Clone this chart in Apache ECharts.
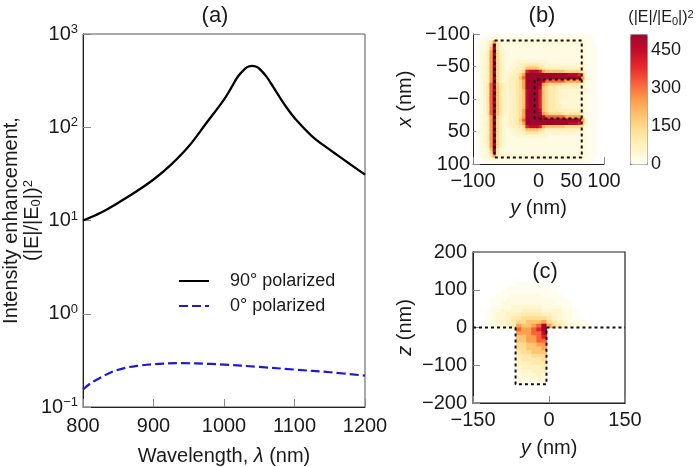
<!DOCTYPE html>
<html><head><meta charset="utf-8">
<script src="https://cdn.jsdelivr.net/npm/echarts@6/dist/echarts.min.js"></script>
<style>html,body{margin:0;padding:0;background:#fff}#c{width:696px;height:467px}</style>
</head><body><div id="c"></div>
<script>
// ---- panel (a) data ----
const wavelength90 = [800,825,850,875,900,925,950,975,1000,1010,1020,1030,1035,1040,1045,1050,1060,1070,1080,1090,1100,1125,1150,1175,1200];
const enhancement90 = [10,12.1,15.5,20.3,27.5,39.8,62.5,111,198,263,352,425,448,455,448,425,351,269,204,158,126,80,57.5,42.2,31];
const wavelength0 = [800,810,820,840,860,880,900,940,980,1000,1050,1100,1150,1200];
const enhancement0 = [0.154,0.178,0.197,0.236,0.263,0.278,0.288,0.295,0.290,0.285,0.269,0.252,0.236,0.217];
const seriesNames = ['90° polarized','0° polarized'];
// ---- field maps: run-length rows of intensity levels ----
const levelValues = {'.':0,a:10,b:25,c:45,d:70,e:100,f:140,g:190,h:250,i:320,j:400,k:460,X:512};
// panel (b): rows x = -100..100 (top to bottom), columns y = -100..100, 5 nm cells
const mapB = [
"4.32a4.",
"2.a31b3a3.",
"2.abcehec24ccb2a3.",
".abbcfkec24bcb3a2.",
".abbcgXec24bcb3a2.",
".abcdhXfdc23bcb3a2.",
".abcdhXfdc23bcb3a2.",
".abcdhXfdc23bcb3a2.",
".abcdhXfdc3b10c10bcb3a2.",
".abcdhXfdc2b2c2d4e2d11ccb3a2.",
".abcdhXfdcbccdde4gfe11ddb3a2.",
".abcdhXfdc2c2defjkkkjh6g5feb3a2.",
".abcdhXfdccddefh13X3kjgc3a2.",
".abcdhXfdccddegi17Xhc3a2.",
".abcdhXfdccddefh5Xk6i5hfb3a2.",
".abceiXgedcddefh5Xhg4f6edb3a2.",
".abceiXgedcddefh4Xkgf3e7ddb3a2.",
".abceiXgedcddefgk3Xjgf2e2d6ccb3a2.",
".abceiXgedcddefgk3Xjgf2e2d6ccb3a2.",
".abceiXgedcddefgk3Xjgf2e2d6ccb3a2.",
".abceiXgedcddefgk3Xjgf2e2d6ccb3a2.",
".abceiXgedcddefgk3Xjgf2e2d6ccb3a2.",
".abceiXgedcddefgk3Xjgf2e2d6ccb3a2.",
".abceiXgedcddefh4Xkgf3e7ddb3a2.",
".abceiXgedcddefh5Xhg4f6edb3a2.",
".abcdhXfdccddefh5Xk6i5hfb3a2.",
".abcdhXfdccddegi17Xhc3a2.",
".abcdhXfdccddefh13X3kjgc3a2.",
".abcdhXfdc2c2defjkkkjh6g5feb3a2.",
".abcdhXfdcbccdde4gfe11ddb3a2.",
".abcdhXfdc2b2c2d4e2d11ccb3a2.",
".abcdhXfdc3b10c10bcb3a2.",
".abcdhXfdc23bcb3a2.",
".abcdhXfdc23bcb3a2.",
".abcdhXfdc23bcb3a2.",
".abbcgXec24bcb3a2.",
".abbcfkec24bcb3a2.",
"2.abcehec24ccb2a3.",
"2.a31b3a3.",
"4.32a4."
];
// panel (c): rows z = 130..-150 (top to bottom), columns y = -125..85, 10 nm cells
const mapC = [
"21.",
"6.5a10.",
"4.9a8.",
"3.11a7.",
"2.3a6b4a6.",
".3a9b3a5.",
".2a11b3a4.",
".a3b6c4b2a4.",
"a2b4c4d4c2ba3.",
"ab2c3d4e2d2c2ba3.",
"ab2cd2e5fedc2b2a2.",
"ab2cde2f3ghfedc2b2a.",
"ab2cdeh2ghiXhfedc2b2a",
"6.ihhijX9.",
"6.hhhiik9.",
"6.gghhij9.",
"6.gghhii9.",
"6.ffgghh9.",
"6.ffgggh9.",
"6.effggg9.",
"6.eeefff9.",
"6.deeeef9.",
"6.dddeee9.",
"6.cdddde9.",
"6.cccddd9.",
"6.bcccdc9.",
"6.bbbccc9.",
"6.abbbbb9."
];
// structure outlines (nm)
const outlineBOuter = [[-67,-90],[66,-90],[66,90],[-67,90],[-67,-90]];
const outlineBInner = [[66,-30],[-6,-30],[-6,30],[66,30]];
const outlineCLeft = [[-150,0],[-66,0]];
const outlineCRight = [[-5,0],[150,0]];
const outlineCTrench = [[-66,0],[-66,-150],[-5,-150],[-5,0]];
const colorbarTicks = [0,150,300,450];
const xLabelsB = [-100,0,50,100];

// ---- build ----
function decodeRow(s){const out=[];s.replace(/(\d*)(\D)/g,(m,n,ch)=>{const k=n?parseInt(n,10):1;for(let t=0;t<k;t++)out.push(levelValues[ch]);return m;});return out;}
function cells(rows, col0, row0, colStep, rowStep){
  const d=[];
  rows.forEach((r,i)=>{decodeRow(r).forEach((v,j)=>{ if(v>0) d.push([col0+colStep*(j+0.5), row0+rowStep*(i+0.5), v]); });});
  return d;
}
const cellsB = cells(mapB,-100,-100,5,5);
const cellsC = cells(mapC,-125,130,10,-10);
function rectRender(hw,hh){
  return function(params,api){
    const cx=api.value(0), cy=api.value(1);
    const p0=api.coord([cx-hw,cy-hh]), p1=api.coord([cx+hw,cy+hh]);
    return {type:'rect',shape:{x:Math.min(p0[0],p1[0]),y:Math.min(p0[1],p1[1]),width:Math.abs(p1[0]-p0[0])+0.7,height:Math.abs(p1[1]-p0[1])+0.7},style:{fill:api.visual('color')}};
  };
}
const FONT='"Liberation Sans", Arial, Helvetica, sans-serif';
const TXT='#1a1a1a';
const minus = v => String(v).replace('-','\u2212');
const tickStyle = {show:true,inside:true,length:7,lineStyle:{color:'#888',width:1}};
const axisLineStyle = {show:true,onZero:false,lineStyle:{color:'#222',width:1}};
const lbl = (m,extra)=>Object.assign({fontSize:20,color:TXT,fontFamily:FONT,margin:m},extra||{});
const nameRich = {n:{fontSize:20,fontFamily:FONT,color:TXT},i:{fontSize:20,fontFamily:FONT,fontStyle:'italic',color:TXT}};
const dotted = {type:[3,3],width:2,color:'#111'};
const outline = (data,xi,yi)=>({type:'line',data:data,xAxisIndex:xi,yAxisIndex:yi,symbol:'none',silent:true,z:10,lineStyle:dotted,animation:false});

const chart = echarts.init(document.getElementById('c'),null,{renderer:'canvas'});
chart.setOption({
  animation:false,
  textStyle:{fontFamily:FONT,color:TXT},
  grid:[
    {left:83,top:34,width:282,height:373,show:true,borderColor:'#555',borderWidth:1,containLabel:false,outerBoundsMode:'none'},
    {left:473,top:34,width:131,height:130,containLabel:false,outerBoundsMode:'none'},
    {left:473,top:252,width:152,height:151,show:true,borderColor:'#222',borderWidth:1.2,containLabel:false,outerBoundsMode:'none'},
    {left:630,top:34,width:17,height:130,containLabel:false,outerBoundsMode:'none'}
  ],
  xAxis:[
    {gridIndex:0,type:'value',min:800,max:1200,interval:100,axisLine:axisLineStyle,axisTick:Object.assign({},tickStyle,{length:8}),splitLine:{show:false},axisLabel:lbl(9,{formatter:v=>String(v)}),
     name:'{n|Wavelength, }{i|λ}{n| (nm)}',nameLocation:'middle',nameGap:39,nameMoveOverlap:false,nameTextStyle:{rich:nameRich}},
    {gridIndex:1,type:'value',min:-100,max:100,interval:50,axisLine:axisLineStyle,axisTick:tickStyle,splitLine:{show:false},
     axisLabel:lbl(7,{customValues:xLabelsB,formatter:minus}),
     name:'{i|y}{n| (nm)}',nameLocation:'middle',nameGap:34,nameMoveOverlap:false,nameTextStyle:{rich:nameRich}},
    {gridIndex:2,type:'value',min:-150,max:150,interval:150,axisLine:axisLineStyle,axisTick:tickStyle,splitLine:{show:false},
     axisLabel:lbl(7,{formatter:minus}),
     name:'{i|y}{n| (nm)}',nameLocation:'middle',nameGap:35,nameMoveOverlap:false,nameTextStyle:{rich:nameRich}},
    {gridIndex:3,type:'value',min:0,max:1,show:false}
  ],
  yAxis:[
    {gridIndex:0,type:'log',logBase:10,min:0.1,max:1000,axisLine:axisLineStyle,axisTick:Object.assign({},tickStyle,{length:8}),splitLine:{show:false},minorTick:{show:false},
     axisLabel:{margin:5,color:TXT,formatter:v=>{const e=Math.round(Math.log10(v));return '{b|10}{s|'+(e<0?'\u2212'+(-e):e)+'}';},
       rich:{b:{fontSize:20,lineHeight:22,verticalAlign:'middle',fontFamily:FONT,color:TXT},s:{fontSize:13,lineHeight:13,verticalAlign:'top',fontFamily:FONT,color:TXT}}},
     name:'{n|Intensity enhancement,}\n{n|(|E|/|E}{sub|0}{n||)}{sup|2}',nameLocation:'middle',nameGap:40,nameMoveOverlap:false,
     nameTextStyle:{lineHeight:21,rich:{n:{fontSize:20,lineHeight:21,fontFamily:FONT,color:TXT,verticalAlign:'middle'},sub:{fontSize:13,lineHeight:21,verticalAlign:'bottom',fontFamily:FONT,color:TXT},sup:{fontSize:13,lineHeight:13,verticalAlign:'top',fontFamily:FONT,color:TXT}}}},
    {gridIndex:1,type:'value',min:-100,max:100,interval:50,inverse:true,axisLine:axisLineStyle,axisTick:tickStyle,splitLine:{show:false},
     axisLabel:lbl(3,{formatter:v=>v===0?'\u22120':minus(v)}),
     name:'{i|x}{n| (nm)}',nameLocation:'middle',nameGap:58,nameMoveOverlap:false,nameTextStyle:{rich:nameRich}},
    {gridIndex:2,type:'value',min:-200,max:200,interval:100,axisLine:axisLineStyle,axisTick:tickStyle,splitLine:{show:false},
     axisLabel:lbl(6,{formatter:minus}),
     name:'{i|z}{n| (nm)}',nameLocation:'middle',nameGap:58,nameMoveOverlap:false,nameTextStyle:{rich:nameRich}},
    {gridIndex:3,type:'value',min:0,max:512,position:'right',axisLine:{show:false},splitLine:{show:false},
     axisTick:{show:true,inside:false,length:6,customValues:colorbarTicks,lineStyle:{color:'#555'}},
     axisLabel:{customValues:colorbarTicks,fontSize:18,color:TXT,fontFamily:FONT,margin:4}}
  ],
  visualMap:{type:'continuous',min:0,max:512,dimension:2,seriesIndex:[2,3],calculable:false,hoverLink:false,
    left:630,top:34,itemWidth:17,itemHeight:130,padding:0,borderColor:'#999',borderWidth:1,
    inRange:{color:['#fffff6','#fff3c4','#fee39a','#fec470','#fd9c4c','#f9603a','#e8282a','#c40c2a','#a0062c']}},
  legend:{orient:'vertical',left:178,top:272,padding:0,itemWidth:30,itemHeight:14,itemGap:7,data:seriesNames,
    itemStyle:{color:'rgba(0,0,0,0)',borderWidth:0,opacity:0},
    textStyle:{fontSize:18,color:TXT,fontFamily:FONT,padding:[0,0,0,16]}},
  graphic:[
    {type:'text',x:215,y:16,z:100,style:{text:'(a)',fontSize:22,fontFamily:FONT,fill:TXT,align:'center',verticalAlign:'middle'}},
    {type:'text',x:542,y:16,z:100,style:{text:'(b)',fontSize:22,fontFamily:FONT,fill:TXT,align:'center',verticalAlign:'middle'}},
    {type:'text',x:545,y:272,z:100,style:{text:'(c)',fontSize:22,fontFamily:FONT,fill:TXT,align:'center',verticalAlign:'middle'}},
    {type:'text',x:661,y:18,z:100,style:{text:'(|E|/|E{s|0}|){p|2}',fontSize:16,fontFamily:FONT,fill:TXT,align:'center',verticalAlign:'middle',
      rich:{s:{fontSize:11,verticalAlign:'bottom',lineHeight:18,fontFamily:FONT,fill:TXT},p:{fontSize:11,verticalAlign:'top',lineHeight:11,fontFamily:FONT,fill:TXT}}}}
  ],
  series:[
    {name:seriesNames[0],type:'line',xAxisIndex:0,yAxisIndex:0,symbol:'none',smooth:0.35,data:wavelength90.map((w,i)=>[w,enhancement90[i]]),lineStyle:{color:'#000',width:2.3},itemStyle:{color:'#000'}},
    {name:seriesNames[1],type:'line',xAxisIndex:0,yAxisIndex:0,symbol:'none',smooth:0.35,data:wavelength0.map((w,i)=>[w,enhancement0[i]]),lineStyle:{color:'#1b1bd4',width:2.2,type:[9,4]},itemStyle:{color:'#1b1bd4'}},
    {type:'custom',xAxisIndex:1,yAxisIndex:1,data:cellsB,renderItem:rectRender(2.5,2.5),clip:true,silent:true,progressive:0,z:1},
    {type:'custom',xAxisIndex:2,yAxisIndex:2,data:cellsC,renderItem:rectRender(5,5),clip:true,silent:true,progressive:0,z:1},
    outline(outlineBOuter,1,1),
    outline(outlineBInner,1,1),
    outline(outlineCLeft,2,2),
    outline(outlineCRight,2,2),
    outline(outlineCTrench,2,2),
    {type:'scatter',xAxisIndex:3,yAxisIndex:3,data:[],silent:true}
  ]
});
</script></body></html>
